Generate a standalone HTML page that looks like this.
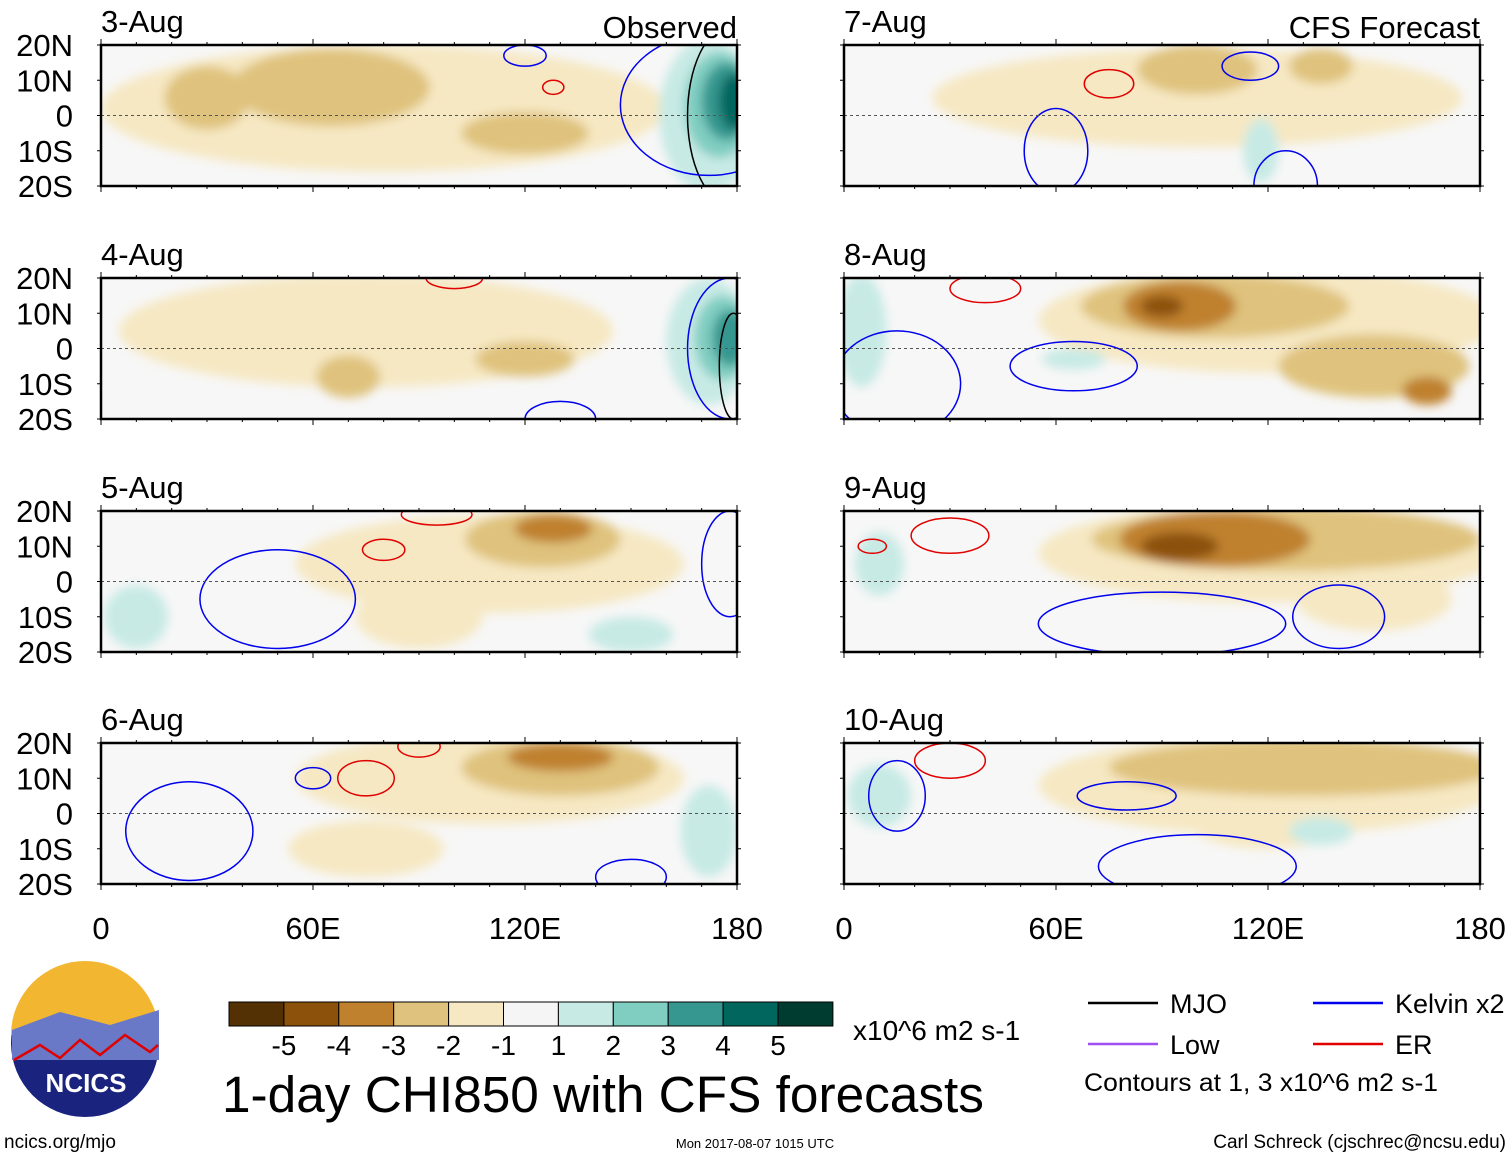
<!DOCTYPE html>
<html><head><meta charset="utf-8"><style>
body{margin:0;background:#fff;width:1510px;height:1158px;overflow:hidden;font-family:"Liberation Sans",sans-serif}
svg text{font-family:"Liberation Sans",sans-serif}
</style></head><body>
<svg id="s" width="1510" height="1158" xmlns="http://www.w3.org/2000/svg">
<defs><filter id="bl" x="-20%" y="-20%" width="140%" height="140%"><feGaussianBlur stdDeviation="5"/></filter>
<clipPath id="c0"><rect x="0" y="0" width="636" height="141"/></clipPath></defs>
</svg>
<script>
const panelDates=["3-Aug","4-Aug","5-Aug","6-Aug","7-Aug","8-Aug","9-Aug","10-Aug"];
const levels=[-5,-4,-3,-2,-1,1,2,3,4,5];
const levelColors=["#543005","#8c510a","#bf812d","#dfc27d","#f6e8c3","#c7eae5","#80cdc1","#35978f","#01665e","#003c30"];
// blobs: panel, lon, lat, lonRadius, latRadius, level
const blobs=[
[0,80,2,80,18,-1],[0,65,8,28,11,-2],[0,30,5,12,9,-2],[0,120,-5,18,6,-2],[0,172,0,14,22,1],[0,175,3,10,15,2],[0,177,4,7,11,3],[0,179,4,4,8,4],
[1,75,5,70,16,-1],[1,120,-3,14,5,-2],[1,70,-8,9,6,-2],[1,172,2,12,18,1],[1,176,3,8,12,2],[1,178,3,5,8,3],
[2,110,5,55,14,-1],[2,125,12,22,8,-2],[2,128,15,11,4,-3],[2,90,-10,18,9,-1],[2,10,-10,9,9,1],[2,150,-15,12,5,1],
[3,110,10,55,13,-1],[3,130,13,28,8,-2],[3,130,16,15,4,-3],[3,75,-10,22,8,-1],[3,172,-5,8,13,1],
[4,100,5,75,14,-1],[4,100,13,17,7,-2],[4,135,14,9,5,-2],[4,118,-10,5,9,1],
[5,120,8,65,15,-1],[5,105,12,38,9,-2],[5,95,12,16,7,-3],[5,90,12,6,3,-4],[5,150,-5,27,9,-2],[5,165,-12,7,4,-3],[5,5,5,7,16,1],[5,65,-3,9,3,1],
[6,120,8,65,14,-1],[6,125,12,55,9,-2],[6,105,12,27,8,-3],[6,95,10,11,4,-4],[6,150,-5,22,9,-1],[6,10,5,7,9,1],
[7,120,8,65,14,-1],[7,130,13,55,8,-2],[7,120,-3,22,7,-1],[7,135,-5,9,4,1],[7,10,5,9,9,1]];
// contours: panel, lon, lat, lonRadius, latRadius, type
const contours=[
[0,178,0,12,25,"k"],[0,172,3,25,20,"b"],[0,120,17,6,3,"b"],[0,128,8,3,2,"r"],
[1,178,0,12,20,"b"],[1,179,-5,4,15,"k"],[1,130,-20,10,5,"b"],[1,100,20,8,3,"r"],
[2,80,9,6,3,"r"],[2,95,19,10,3,"r"],[2,50,-5,22,14,"b"],[2,178,5,8,15,"b"],
[3,75,10,8,5,"r"],[3,90,19,6,3,"r"],[3,25,-5,18,14,"b"],[3,60,10,5,3,"b"],[3,150,-18,10,5,"b"],
[4,75,9,7,4,"r"],[4,115,14,8,4,"b"],[4,60,-10,9,12,"b"],[4,125,-20,9,10,"b"],
[5,40,17,10,4,"r"],[5,65,-5,18,7,"b"],[5,15,-10,18,15,"b"],
[6,30,13,11,5,"r"],[6,90,-12,35,9,"b"],[6,140,-10,13,9,"b"],[6,8,10,4,2,"r"],
[7,30,15,10,5,"r"],[7,100,-15,28,9,"b"],[7,80,5,14,4,"b"],[7,15,5,8,10,"b"]];
const lonTicks=[0,60,120,180],lonLabels=["0","60E","120E","180"];
const latTicks=[20,10,0,-10,-20],latLabels=["20N","10N","0","10S","20S"];
const S=document.getElementById('s'),NS="http://www.w3.org/2000/svg";
function mk(t,a,p){const e=document.createElementNS(NS,t);for(const k in a)e.setAttribute(k,a[k]);(p||S).appendChild(e);return e;}
const W=636,H=141,lefts=[101,844],tops=[45,278,511,743];
function px(p){return lefts[p<4?0:1];} function py(p){return tops[p%4];}
function xs(lon){return lon/180*W;} function ys(lat){return (20-lat)/40*H;}
const cmap={k:"#000",b:"#0000ee",r:"#e00000"};
for(let p=0;p<8;p++){
 const g=mk('g',{transform:`translate(${px(p)},${py(p)})`});
 
 
 mk('rect',{x:0,y:0,width:W,height:H,fill:"#f7f7f7"},g);
 const inner=mk('g',{'clip-path':'url(#c0)'},g);
 const fg=mk('g',{filter:'url(#bl)'},inner);
 blobs.filter(b=>b[0]===p).forEach(b=>{
  const e=mk('ellipse',{cx:xs(b[1]),cy:ys(b[2]),rx:xs(b[3]),ry:b[4]/40*H,fill:levelColors[levels.indexOf(b[5])]},fg);
  
  
 });
 contours.filter(c=>c[0]===p).forEach(c=>{
  const e=mk('ellipse',{cx:xs(c[1]),cy:ys(c[2]),rx:xs(c[3]),ry:c[4]/40*H,fill:"none",stroke:cmap[c[5]],'stroke-width':1.5},inner);
  
  
 });
 mk('line',{x1:0,x2:W,y1:ys(0),y2:ys(0),stroke:"#555",'stroke-dasharray':"3,3",'stroke-width':1},g);
 mk('rect',{x:0,y:0,width:W,height:H,fill:"none",stroke:"#000",'stroke-width':2.5},g);
 for(let l=0;l<=180;l+=10){const big=l%60===0?6:3;mk('line',{x1:xs(l),x2:xs(l),y1:0,y2:-big,stroke:"#000"},g);mk('line',{x1:xs(l),x2:xs(l),y1:H,y2:H+big,stroke:"#000"},g);}
 latTicks.forEach((t,i)=>{mk('line',{x1:-4,x2:0,y1:ys(t),y2:ys(t),stroke:"#000"},g);mk('line',{x1:W,x2:W+4,y1:ys(t),y2:ys(t),stroke:"#000"},g);
  if(p<4){const tx=mk('text',{x:-28,y:ys(t)+11,'font-size':31,'text-anchor':'end'},g);tx.textContent=latLabels[i];}});
 const d=mk('text',{x:0,y:-13,'font-size':31},g);d.textContent=panelDates[p];
 
 
 if(p===0||p===4){const t=mk('text',{x:W,y:-7,'font-size':31,'text-anchor':'end'},g);t.textContent=p===0?"Observed":"CFS Forecast";}
 if(p%4===3){lonTicks.forEach((t,i)=>{const tx=mk('text',{x:xs(t),y:H+55,'font-size':31,'text-anchor':'middle'},g);tx.textContent=lonLabels[i];});}
}
// colorbar
const cb=mk('g',{});


const cbCols=["#543005","#8c510a","#bf812d","#dfc27d","#f6e8c3","#f5f5f5","#c7eae5","#80cdc1","#35978f","#01665e","#003c30"];
const cbLabels=["-5","-4","-3","-2","-1","1","2","3","4","5"];
cbCols.forEach((c,i)=>mk('rect',{x:229+i*54.9,y:1002,width:54.9,height:24,fill:c,stroke:"#000",'stroke-width':1},cb));
cbLabels.forEach((l,i)=>{const t=mk('text',{x:229+(i+1)*54.9,y:1055,'font-size':28,'text-anchor':'middle'},cb);t.textContent=l;});
const u=mk('text',{x:853,y:1040,'font-size':28},cb);u.textContent="x10^6 m2 s-1";
const ti=mk('text',{x:222,y:1112,'font-size':51,textLength:762,lengthAdjust:'spacingAndGlyphs'},S);ti.textContent="1-day CHI850 with CFS forecasts";


// legend
const lg=mk('g',{});


[["MJO","#000",1088,1003],["Low","#a050f0",1088,1044],["Kelvin x2","#0000ee",1313,1003],["ER","#e00000",1313,1044]].forEach(e=>{
 mk('line',{x1:e[2],x2:e[2]+70,y1:e[3],y2:e[3],stroke:e[1],'stroke-width':2.5},lg);
 const t=mk('text',{x:e[2]+82,y:e[3]+10,'font-size':27},lg);t.textContent=e[0];});
const ct=mk('text',{x:1084,y:1091,'font-size':25,textLength:354,lengthAdjust:'spacingAndGlyphs'},lg);ct.textContent="Contours at 1, 3 x10^6 m2 s-1";
// logo
const lo=mk('g',{});


mk('circle',{cx:85,cy:1043,r:74,fill:"#1a237e"},lo);
mk('path',{d:"M11,1035 A74,74 0 0 1 159,1035 Z",fill:"#f2b630"},lo);
mk('path',{d:"M12,1030 L60,1012 L110,1025 L159,1010 L159,1060 L12,1060 Z",fill:"#6a78c8"},lo);
mk('path',{d:"M14,1060 L40,1045 L60,1058 L80,1040 L100,1055 L125,1035 L150,1052 L158,1045",fill:"none",stroke:"#e00000",'stroke-width':2.5},lo);
const nt=mk('text',{x:86,y:1092,'font-size':26,'font-weight':'bold',fill:"#fff",'text-anchor':'middle'},lo);nt.textContent="NCICS";
const f1=mk('text',{x:4,y:1148,'font-size':19},S);f1.textContent="ncics.org/mjo";
const f2=mk('text',{x:755,y:1148,'font-size':13,'text-anchor':'middle'},S);f2.textContent="Mon 2017-08-07 1015 UTC";
const f3=mk('text',{x:1506,y:1148,'font-size':19,'text-anchor':'end'},S);f3.textContent="Carl Schreck (cjschrec@ncsu.edu)";
</script>
</body></html>
